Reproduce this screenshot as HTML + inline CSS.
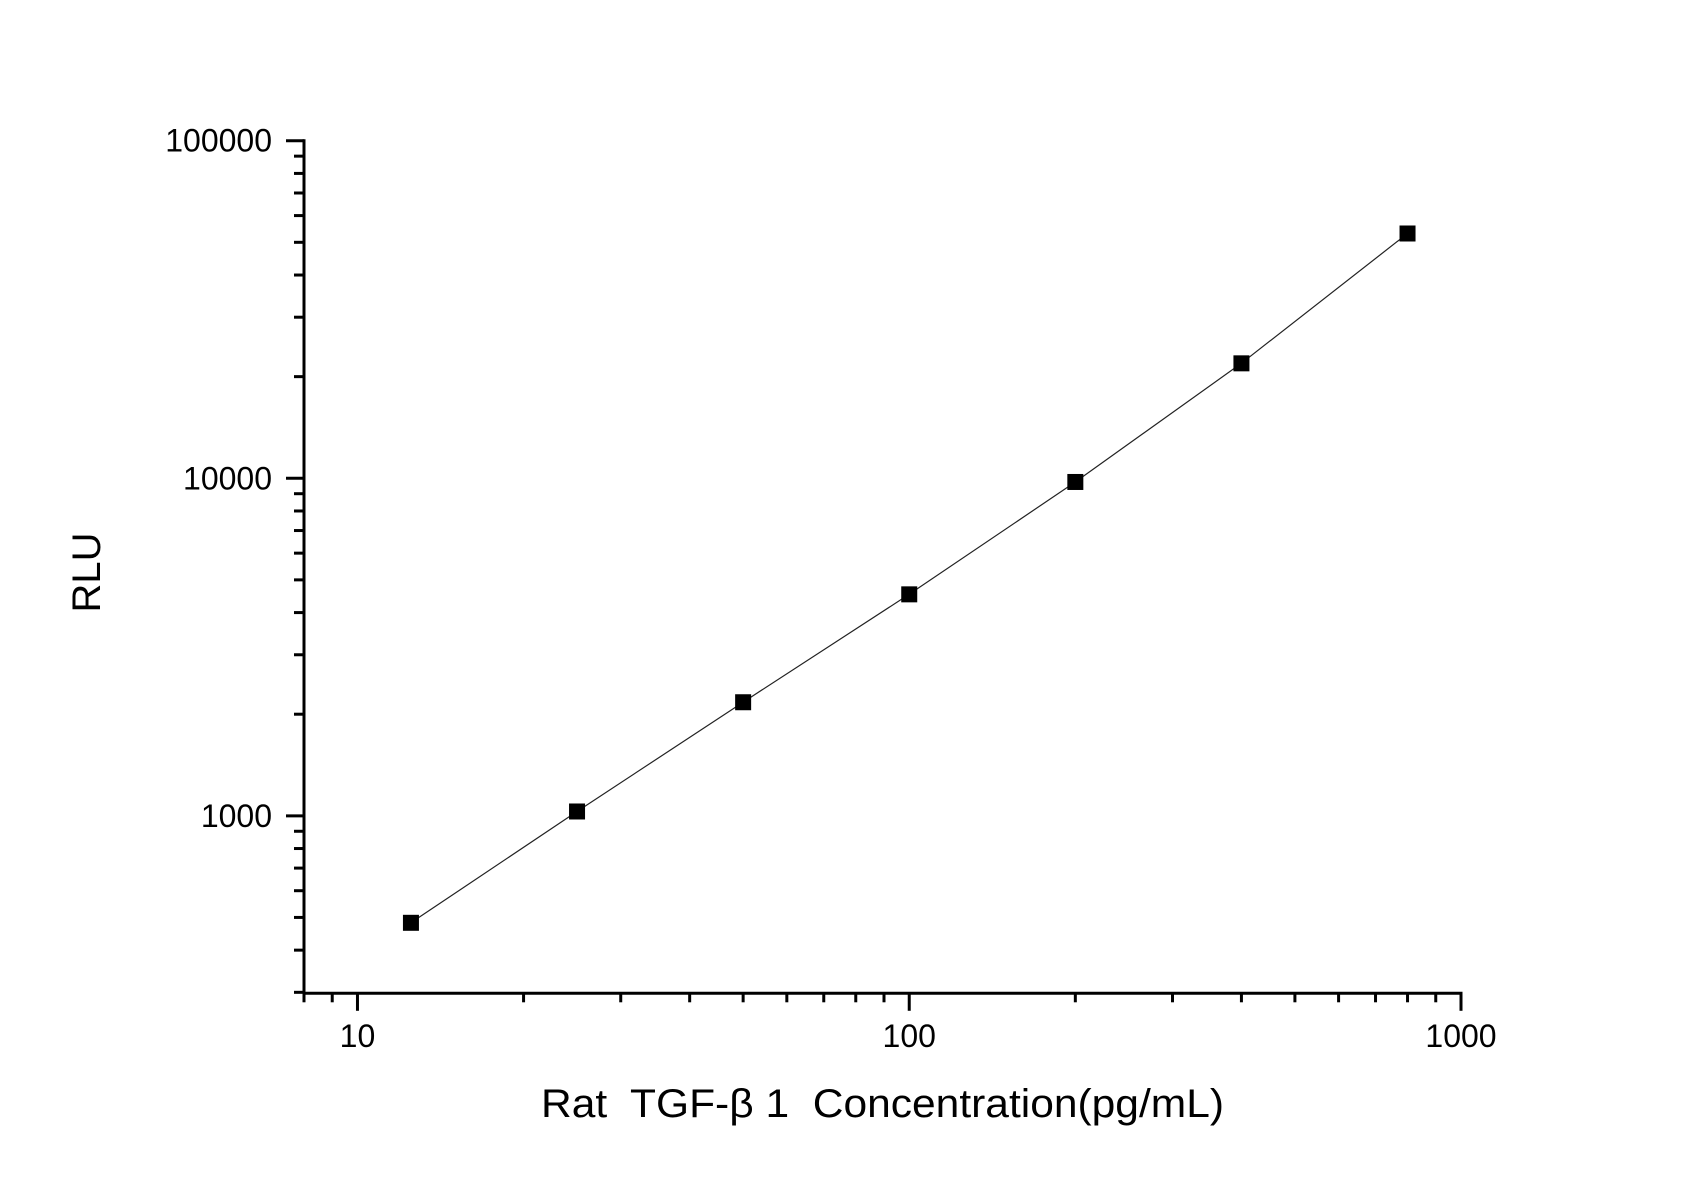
<!DOCTYPE html>
<html><head><meta charset="utf-8"><style>html,body{margin:0;padding:0;background:#fff;}svg{display:block;}</style></head>
<body>
<svg id="chart" width="1695" height="1189" viewBox="0 0 1695 1189" xmlns="http://www.w3.org/2000/svg" font-family="'Liberation Sans', Arial, sans-serif">
<rect width="1695" height="1189" fill="#fff"/>
<g id="axes"></g>
<g id="series"></g>
<text transform="translate(100,572.5) rotate(-90)" text-anchor="middle" font-size="40" fill="#000">RLU</text>
<text x="541" y="1117" font-size="40" fill="#000" textLength="683" lengthAdjust="spacingAndGlyphs" xml:space="preserve">Rat  TGF-β 1  Concentration(pg/mL)</text>
</svg>
<script>
const concentrations = [12.5, 25, 50, 100, 200, 400, 800];
const rluValues = [482, 1030, 2170, 4530, 9750, 21900, 53100];
const xTickValues = [10, 100, 1000];
const xTickLabels = ["10", "100", "1000"];
const yTickValues = [1000, 10000, 100000];
const yTickLabels = ["1000", "10000", "100000"];
const xDomain = [8, 1000];
const yDomain = [298, 100000];

const NS = "http://www.w3.org/2000/svg";
const X0 = 304, X1 = 1461, Y0 = 993.3, Y1 = 140.7;
const xLogMin = Math.log10(xDomain[0]), xLogMax = Math.log10(xDomain[1]);
const yLogMin = Math.log10(yDomain[0]), yLogMax = Math.log10(yDomain[1]);
function xScale(v){ return X0 + (Math.log10(v) - xLogMin) / (xLogMax - xLogMin) * (X1 - X0); }
function yScale(v){ return Y0 - (Math.log10(v) - yLogMin) / (yLogMax - yLogMin) * (Y0 - Y1); }
function mk(tag, attrs, parent){ const e = document.createElementNS(NS, tag); for (const k in attrs) e.setAttribute(k, attrs[k]); parent.appendChild(e); return e; }

const axes = document.getElementById('axes');
const series = document.getElementById('series');

const xAxis = mk('line', {x1: X0 - 1.5, y1: Y0, x2: X1 + 1.5, y2: Y0, stroke: '#000', 'stroke-width': 3}, axes);


const yAxis = mk('line', {x1: X0, y1: Y0 + 1.5, x2: X0, y2: Y1 - 1.5, stroke: '#000', 'stroke-width': 3}, axes);



// x minor ticks
for (let d = 1; d <= 100; d *= 10) {
  for (let m = 1; m <= 9; m++) {
    const v = d * m;
    if (v < xDomain[0] || v > xDomain[1]) continue;
    const major = (m === 1);
    const x = xScale(v);
    const t = mk('line', {x1: x, y1: Y0, x2: x, y2: Y0 + (major ? 17.5 : 9), stroke: '#000', 'stroke-width': 3}, axes);
    
    
  }
}
{
  const x = xScale(1000);
  const t = mk('line', {x1: x, y1: Y0, x2: x, y2: Y0 + 17.5, stroke: '#000', 'stroke-width': 3}, axes);
  
  
}
xTickValues.forEach((v, i) => {
  const t = mk('text', {x: xScale(v), y: 1047, 'text-anchor': 'middle', 'font-size': 32, fill: '#000'}, axes);
  t.textContent = xTickLabels[i];
  
  
});

// y ticks
for (let d = 100; d <= 10000; d *= 10) {
  for (let m = 1; m <= 9; m++) {
    const v = d * m;
    if (v < yDomain[0] || v > yDomain[1]) continue;
    const major = (m === 1);
    const y = yScale(v);
    const t = mk('line', {x1: X0, y1: y, x2: X0 - (major ? 18 : 10), y2: y, stroke: '#000', 'stroke-width': 3}, axes);
    
    
  }
}
{
  const y = yScale(100000);
  const t = mk('line', {x1: X0, y1: y, x2: X0 - 18, y2: y, stroke: '#000', 'stroke-width': 3}, axes);
  
  
}
yTickValues.forEach((v, i) => {
  const t = mk('text', {x: 272, y: yScale(v) + 11, 'text-anchor': 'end', 'font-size': 32, fill: '#000'}, axes);
  t.textContent = yTickLabels[i];
  
  
});

// line
const pts = concentrations.map((c, i) => xScale(c).toFixed(1) + ',' + yScale(rluValues[i]).toFixed(1)).join(' ');
const pl = mk('polyline', {points: pts, fill: 'none', stroke: '#222', 'stroke-width': 1.2}, series);



concentrations.forEach((c, i) => {
  const r = mk('rect', {x: xScale(c) - 8, y: yScale(rluValues[i]) - 8, width: 16, height: 16, fill: '#000'}, series);
  
  
});
</script>
</body></html>
